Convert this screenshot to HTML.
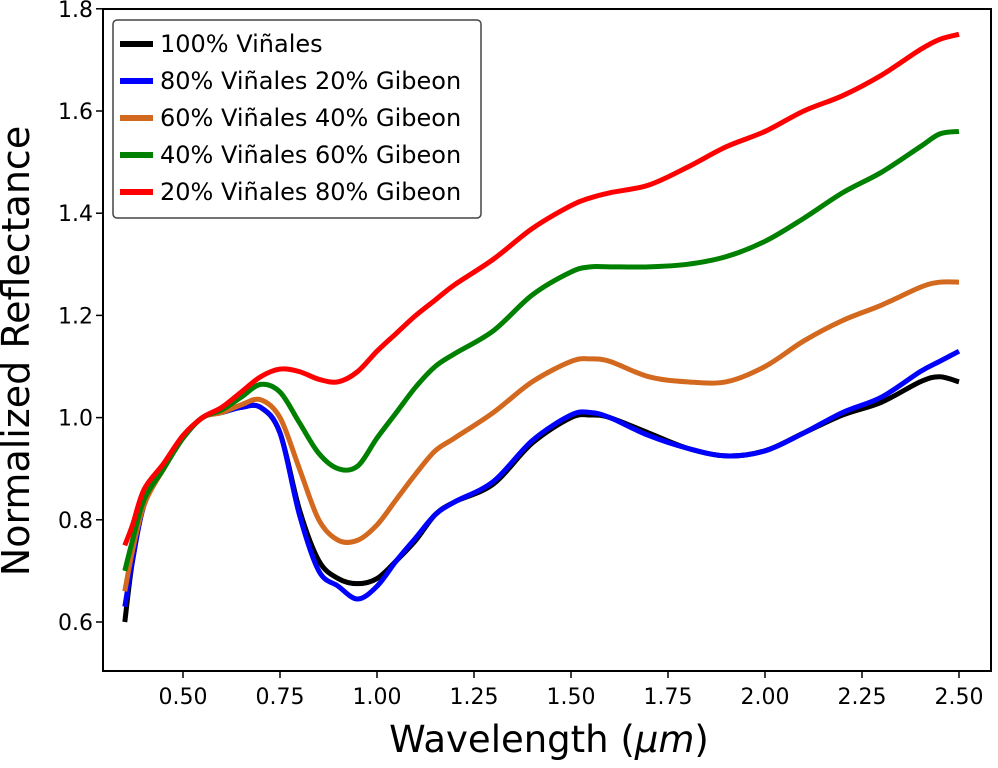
<!DOCTYPE html>
<html><head><meta charset="utf-8"><style>
body{margin:0;background:#fff}
svg text{font-family:"DejaVu Sans","Liberation Sans",sans-serif;fill:#000}
</style></head><body>
<svg id="chart" width="998" height="763" xmlns="http://www.w3.org/2000/svg">
<g id="plot"></g>
<g id="axes"></g>
<g id="legend"></g>
</svg>
<script>
const wavelengths=[0.35,0.37,0.4,0.45,0.5,0.55,0.6,0.65,0.7,0.75,0.8,0.85,0.9,0.95,1.0,1.05,1.1,1.15,1.2,1.3,1.4,1.5,1.55,1.6,1.7,1.8,1.9,2.0,2.1,2.2,2.3,2.4,2.45,2.5];
const black=[0.6,0.72,0.83,0.9,0.96,1.0,1.01,1.02,1.02,0.97,0.82,0.72,0.685,0.675,0.685,0.72,0.76,0.81,0.835,0.87,0.95,1.0,1.005,1.0,0.97,0.94,0.925,0.935,0.97,1.005,1.03,1.07,1.08,1.07];
const blue=[0.63,0.72,0.83,0.9,0.96,1.0,1.01,1.02,1.02,0.97,0.81,0.7,0.67,0.645,0.67,0.72,0.765,0.81,0.835,0.875,0.955,1.005,1.01,1.0,0.965,0.94,0.925,0.935,0.97,1.01,1.04,1.09,1.11,1.13];
const orange=[0.66,0.74,0.83,0.9,0.96,1.0,1.01,1.025,1.035,1.0,0.9,0.8,0.76,0.76,0.79,0.84,0.89,0.935,0.96,1.01,1.07,1.11,1.115,1.11,1.08,1.07,1.07,1.1,1.15,1.19,1.22,1.255,1.265,1.265];
const green=[0.7,0.76,0.84,0.9,0.96,1.0,1.015,1.04,1.065,1.05,0.99,0.93,0.9,0.905,0.96,1.01,1.06,1.1,1.125,1.17,1.24,1.285,1.295,1.295,1.295,1.3,1.315,1.345,1.39,1.44,1.48,1.53,1.555,1.56];
const red=[0.75,0.79,0.86,0.91,0.965,1.0,1.02,1.05,1.08,1.095,1.09,1.075,1.07,1.09,1.13,1.165,1.2,1.23,1.26,1.31,1.37,1.415,1.43,1.44,1.455,1.49,1.53,1.56,1.6,1.63,1.67,1.72,1.74,1.75];
const seriesNames=["100% Viñales","80% Viñales 20% Gibeon","60% Viñales 40% Gibeon","40% Viñales 60% Gibeon","20% Viñales 80% Gibeon"];
const xTicks=[0.5,0.75,1.0,1.25,1.5,1.75,2.0,2.25,2.5];
const xTickLabels=["0.50","0.75","1.00","1.25","1.50","1.75","2.00","2.25","2.50"];
const yTicks=[0.6,0.8,1.0,1.2,1.4,1.6,1.8];
const yTickLabels=["0.6","0.8","1.0","1.2","1.4","1.6","1.8"];

const L=103,R=991,T=9,B=671;
const X=v=>183+(v-0.5)*388;
const Y=v=>622-(v-0.6)*511;
const NS="http://www.w3.org/2000/svg";
function mk(t,a,p){const e=document.createElementNS(NS,t);for(const k in a)e.setAttribute(k,a[k]);p.appendChild(e);return e;}
const plot=document.getElementById('plot'),axes=document.getElementById('axes'),leg=document.getElementById('legend');
function pathFor(xs,ys){const p=xs.map((x,i)=>[X(x),Y(ys[i])]);let d=`M${p[0][0]},${p[0][1]}`;
for(let i=0;i<p.length-1;i++){const p0=p[i-1]||p[i],p1=p[i],p2=p[i+1],p3=p[i+2]||p2;
d+=` C${p1[0]+(p2[0]-p0[0])/6},${p1[1]+(p2[1]-p0[1])/6} ${p2[0]-(p3[0]-p1[0])/6},${p2[1]-(p3[1]-p1[1])/6} ${p2[0]},${p2[1]}`;}return d;}
const all=[black,blue,orange,green,red],cols=["#000000","#0000ff","#d2691e","#008000","#ff0000"],names=["series-100-vinales","series-80-vinales","series-60-vinales","series-40-vinales","series-20-vinales"];
all.forEach((s,i)=>{const e=mk('path',{d:pathFor(wavelengths,s),fill:'none',stroke:cols[i],'stroke-width':5,'stroke-linejoin':'round'},plot);

});
const fr=mk('rect',{x:L,y:T,width:R-L,height:B-T,fill:'none',stroke:'#000','stroke-width':2},axes);


xTicks.forEach((v,i)=>{mk('line',{x1:X(v),x2:X(v),y1:B,y2:B+7,stroke:'#000','stroke-width':1.5},axes);
const t=mk('text',{x:X(v),y:B+33,'text-anchor':'middle','font-size':22},axes);t.textContent=xTickLabels[i];

});
yTicks.forEach((v,i)=>{mk('line',{x1:L-7,x2:L,y1:Y(v),y2:Y(v),stroke:'#000','stroke-width':1.5},axes);
const t=mk('text',{x:L-10,y:Y(v)+8,'text-anchor':'end','font-size':22},axes);t.textContent=yTickLabels[i];

});
const xl=mk('text',{x:549,y:752,'text-anchor':'middle','font-size':37},axes);xl.innerHTML='Wavelength (<tspan font-style="italic">μm</tspan>)';


const yl=mk('text',{x:29,y:351,'text-anchor':'middle','font-size':38,transform:'rotate(-90 29 351)'},axes);yl.textContent='Normalized Reflectance';


const lb=mk('rect',{x:113,y:20,width:368,height:198,rx:4,fill:'#fff',stroke:'#444','stroke-width':1.5},leg);


seriesNames.forEach((n,i)=>{const y=44+i*37;const g=mk('g',{},leg);


mk('line',{x1:120,x2:153,y1:y,y2:y,stroke:cols[i],'stroke-width':6},g);
const t=mk('text',{x:160,y:y+8,'font-size':24},g);t.textContent=n;});
</script>
</body></html>
